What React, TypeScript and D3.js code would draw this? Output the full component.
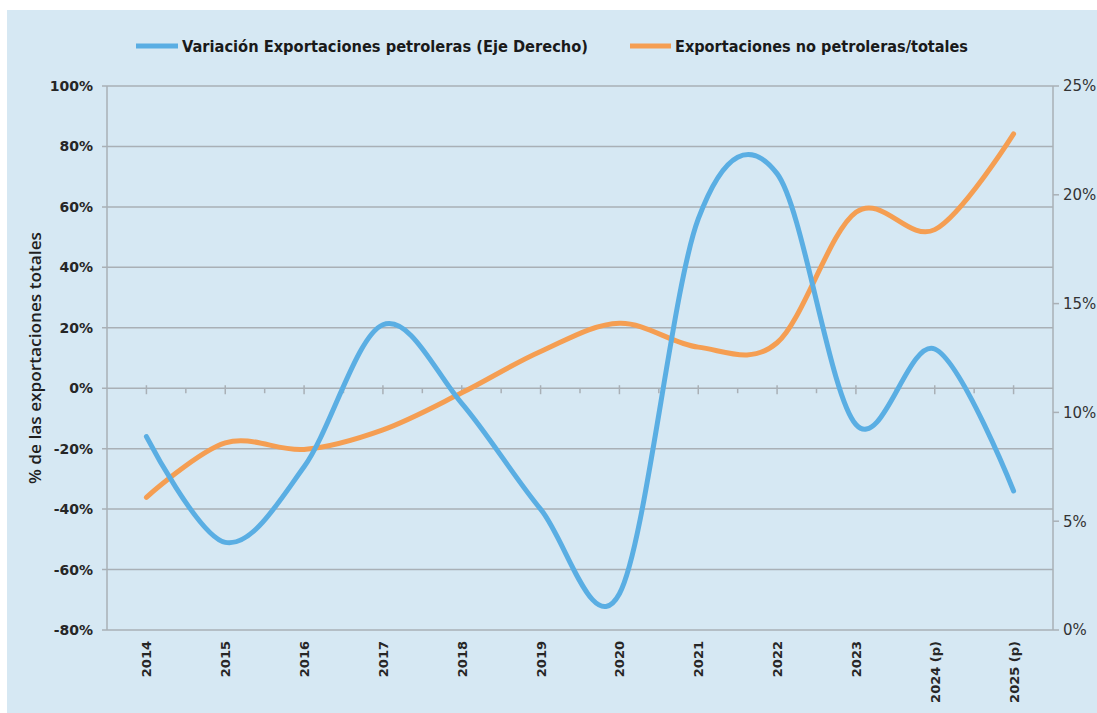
import React from "react";
import * as d3 from "d3";

const categories = ["2014", "2015", "2016", "2017", "2018", "2019", "2020", "2021", "2022", "2023", "2024 (p)", "2025 (p)"];
const blueValues = [-16, -51, -26, 21, -5, -40, -68, 56, 71, -12, 13, -34];
const orangeValues = [6.1, 8.6, 8.3, 9.2, 10.9, 12.8, 14.1, 13.0, 13.2, 19.2, 18.4, 22.8];
const leftTicks = [100, 80, 60, 40, 20, 0, -20, -40, -60, -80];
const rightTicks = [25, 20, 15, 10, 5, 0];
const legendLabels = ["Variación Exportaciones petroleras (Eje Derecho)", "Exportaciones no petroleras/totales"];
const yTitle = "% de las exportaciones totales";

const W = 1097, H = 713;
const L = 107, R = 1053, T = 86, B = 630;
const BLUE = "#5aaee3";
const ORANGE = "#f59e52";
const GRID = "#a9b0b6";
const BG = "#d6e8f3";

export default function App() {
  const x = d3.scalePoint<string>().domain(categories).range([L, R]).padding(0.5);
  const band = (R - L) / categories.length;
  const yL = d3.scaleLinear().domain([-80, 100]).range([B, T]);
  const yR = d3.scaleLinear().domain([0, 25]).range([B, T]);

  const blueLine = d3.line<number>()
    .x((_, i) => x(categories[i]) as number)
    .y((d) => yL(d))
    .curve(d3.curveCardinal.tension(0));
  const orangeLine = d3.line<number>()
    .x((_, i) => x(categories[i]) as number)
    .y((d) => yR(d))
    .curve(d3.curveCardinal.tension(0));

  const y0 = yL(0);
  const boundaries = d3.range(categories.length + 1).map((i) => L + i * band);

  return (
    <div style={{ position: "absolute", left: 0, top: 0 }}>
      <svg width={W} height={H} style={{ display: "block" }}>
        <rect x={0} y={0} width={W} height={H} fill="#ffffff" />
        <rect x={7} y={10} width={W - 7} height={H - 10} fill={BG} />

        {/* legend */}
        <g fontFamily="'Liberation Sans Narrow', 'DejaVu Sans Condensed', sans-serif" fontWeight="bold" fontSize={16} fill="#1a1a1a">
          <line x1={136} x2={178} y1={46} y2={46} stroke={BLUE} strokeWidth={5} />
          <text x={182} y={52} textLength={406} lengthAdjust="spacingAndGlyphs">{legendLabels[0]}</text>
          <line x1={630} x2={671} y1={46} y2={46} stroke={ORANGE} strokeWidth={5} />
          <text x={675} y={52} textLength={293} lengthAdjust="spacingAndGlyphs">{legendLabels[1]}</text>
        </g>

        {/* gridlines */}
        {leftTicks.filter((t) => t !== 0).map((t) => (
          <line key={"g" + t} x1={L - 5} x2={R} y1={yL(t)} y2={yL(t)} stroke={GRID} strokeWidth={1.5} />
        ))}
        {/* category axis at 0 */}
        <line x1={L - 5} x2={R} y1={y0} y2={y0} stroke={GRID} strokeWidth={1.5} />
        {categories.map((c) => (
          <line key={"ct" + c} x1={x(c)} x2={x(c)} y1={y0 - 3} y2={y0 + 6} stroke={GRID} strokeWidth={1.5} />
        ))}
        {boundaries.slice(1, -1).map((b, i) => (
          <line key={"bt" + i} x1={b} x2={b} y1={y0} y2={y0 + 5} stroke={GRID} strokeWidth={1.5} />
        ))}

        {/* left axis */}
        <line x1={L} x2={L} y1={T} y2={B} stroke={GRID} strokeWidth={1.5} />
        {/* right axis */}
        <line x1={R} x2={R} y1={T} y2={B} stroke={GRID} strokeWidth={1.5} />
        {rightTicks.map((t) => (
          <line key={"rt" + t} x1={R} x2={R + 6} y1={yR(t)} y2={yR(t)} stroke={GRID} strokeWidth={1.5} />
        ))}

        {/* left labels */}
        <g fontFamily="'DejaVu Sans', sans-serif" fontWeight="bold" fontSize={14} fill="#262626" textAnchor="end">
          {leftTicks.map((t) => (
            <text key={"ll" + t} x={93} y={yL(t)} dy="0.36em">{t + "%"}</text>
          ))}
        </g>
        {/* right labels */}
        <g fontFamily="'DejaVu Sans', sans-serif" fontSize={15} fill="#333333">
          {rightTicks.map((t) => (
            <text key={"rl" + t} x={1063} y={yR(t)} dy="0.36em">{t + "%"}</text>
          ))}
        </g>
        {/* x labels */}
        <g fontFamily="'DejaVu Sans', sans-serif" fontWeight="bold" fontSize={13} fill="#262626" textAnchor="end">
          {categories.map((c) => (
            <text key={"xl" + c} transform={`translate(${(x(c) as number) + 5},${641}) rotate(-90)`}>{c}</text>
          ))}
        </g>
        {/* y title */}
        <text transform={`translate(41,358) rotate(-90)`} textAnchor="middle" fontFamily="'Open Sans', sans-serif" fontWeight={600} fontSize={16} fill="#1f1f1f" textLength={252} lengthAdjust="spacingAndGlyphs">{yTitle}</text>

        {/* series */}
        <path d={orangeLine(orangeValues) || ""} fill="none" stroke={ORANGE} strokeWidth={5} strokeLinecap="round" strokeLinejoin="round" />
        <path d={blueLine(blueValues) || ""} fill="none" stroke={BLUE} strokeWidth={5} strokeLinecap="round" strokeLinejoin="round" />
      </svg>
    </div>
  );
}
